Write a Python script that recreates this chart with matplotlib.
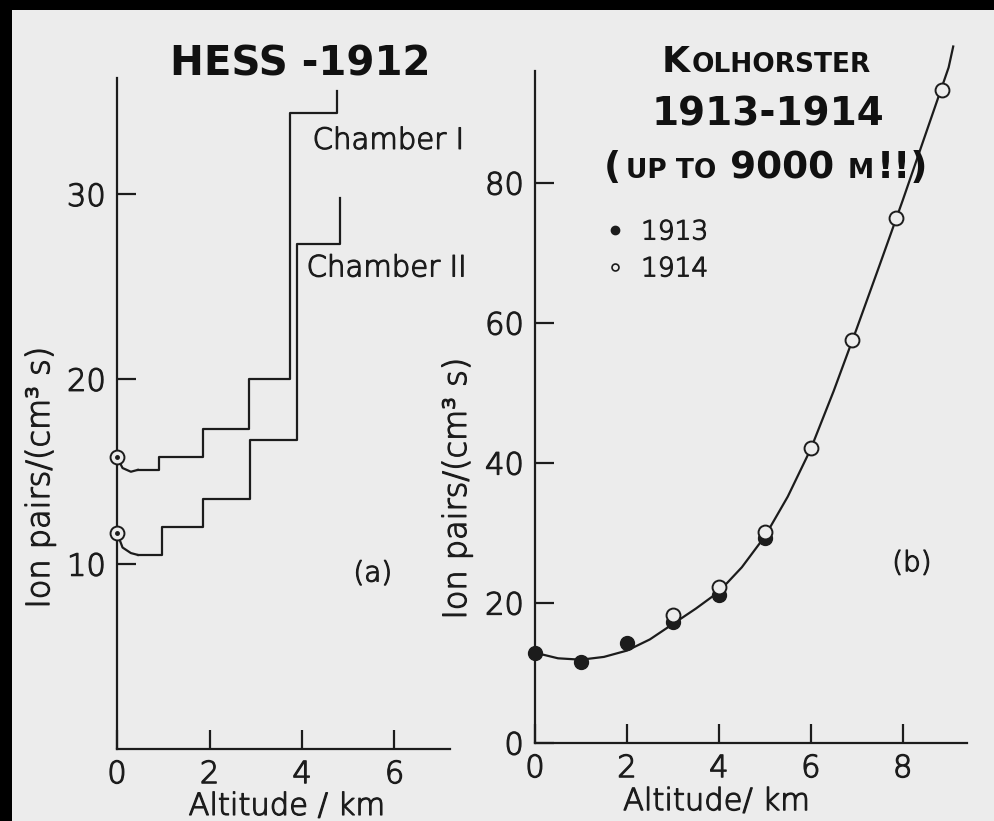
import matplotlib.pyplot as plt
import matplotlib.patheffects as pe
from matplotlib.lines import Line2D
from matplotlib.patches import Rectangle

# ---- data ----
# (a) Hess 1912: two ionisation chambers, step profiles
ch1_lead_alt = [0.0, 0.12, 0.3, 0.45]
ch1_lead_rate = [15.8, 15.2, 15.0, 15.1]
ch1_step_alt = [0.45, 0.9, 1.85, 2.85, 3.75, 4.75]
ch1_step_rate = [15.1, 15.8, 17.3, 20.0, 34.4, 35.6]

ch2_lead_alt = [0.0, 0.12, 0.3, 0.45]
ch2_lead_rate = [11.7, 10.9, 10.6, 10.5]
ch2_step_alt = [0.45, 0.97, 1.86, 2.87, 3.89, 4.82]
ch2_step_rate = [10.5, 12.0, 13.5, 16.7, 27.3, 29.8]

hess_ground_rate = [15.8, 11.7]

# (b) Kolhorster 1913-1914
alt_1913 = [0, 1, 2, 3, 4, 5]
rate_1913 = [12.9, 11.6, 14.3, 17.3, 21.1, 29.3]
alt_1914 = [3, 4, 5, 6, 6.9, 7.85, 8.85]
rate_1914 = [18.3, 22.3, 30.1, 42.1, 57.6, 75.0, 93.3]
curve_alt = [0, 0.5, 1, 1.5, 2, 2.5, 3, 3.5, 4, 4.5, 5, 5.5, 6, 6.5, 7, 7.5, 8, 8.5, 9, 9.1]
curve_rate = [12.9, 12.1, 11.9, 12.3, 13.2, 14.8, 17.0, 19.2, 21.6, 25.1, 29.5,
              35.2, 42.0, 50.3, 59.2, 68.3, 77.5, 87.0, 96.5, 99.5]

ink = "#1c1c1c"
paper = "#ececec"
font = "DejaVu Sans"
weight = "light"
# thin scan-like lettering: light face thickened a touch
thin = [pe.withStroke(linewidth=0.9, foreground=ink)]

W, H = 994, 821
fig = plt.figure(figsize=(W / 100, H / 100), dpi=100)
fig.patch.set_facecolor("black")
fig.patches.append(Rectangle((12 / W, 0), 1, 1 - 10 / H, transform=fig.transFigure,
                             facecolor=paper, edgecolor="none", zorder=-10))


def px_axes(left, right, bottom, top):
    return fig.add_axes([left / W, 1 - bottom / H, (right - left) / W, (bottom - top) / H])


def style(ax):
    ax.set_facecolor("none")
    for s in ["top", "right"]:
        ax.spines[s].set_visible(False)
    for s in ["left", "bottom"]:
        ax.spines[s].set_linewidth(1.6)
        ax.spines[s].set_color(ink)
    ax.tick_params(direction="in", length=14, width=1.6, color=ink,
                   labelsize=22, labelcolor=ink, pad=8)
    for lab in ax.get_xticklabels() + ax.get_yticklabels():
        lab.set_family(font)
        lab.set_fontweight(weight)
        lab.set_path_effects(thin)


def label(ax, x, y, s, size=20, **kw):
    ax.text(x, y, s, fontsize=size, family=font, fontweight=weight, color=ink,
            va="center", path_effects=thin, **kw)


# ---- panel (a) ----
axa = px_axes(117, 450, 749, 78)
axa.set_xlim(0, 7.2)
axa.set_ylim(0, 36.3)
axa.set_xticks([0, 2, 4, 6])
axa.set_yticks([10, 20, 30])
style(axa)

for la, lr, sa, sr in [(ch1_lead_alt, ch1_lead_rate, ch1_step_alt, ch1_step_rate),
                       (ch2_lead_alt, ch2_lead_rate, ch2_step_alt, ch2_step_rate)]:
    axa.plot(la, lr, color=ink, lw=1.6, clip_on=False)
    axa.plot(sa, sr, color=ink, lw=1.6, drawstyle="steps-post", clip_on=False)
axa.plot([0, 0], hess_ground_rate, ls="none", marker="o", ms=10, mfc=paper,
         mec=ink, mew=1.4, clip_on=False, zorder=5)
axa.plot([0, 0], hess_ground_rate, ls="none", marker="o", ms=2.5, color=ink,
         clip_on=False, zorder=6)

label(axa, 4.23, 32.9, "Chamber I", size=21, ha="left")
label(axa, 4.1, 26.0, "Chamber II", size=21, ha="left")
label(axa, 5.53, 9.5, "(a)", ha="center")
axa.set_xlabel("Altitude / km", fontsize=22, family=font, fontweight=weight, color=ink,
               path_effects=thin)
axa.set_ylabel("Ion pairs/(cm³ s)", fontsize=23, family=font, fontweight=weight, color=ink,
               path_effects=thin)
axa.xaxis.set_label_coords(0.51, -0.064)
axa.yaxis.set_label_coords(-0.186, 0.405)

# ---- panel (b) ----
axb = px_axes(535, 967, 743, 43)
axb.set_xlim(0, 9.4)
axb.set_ylim(0, 100)
axb.set_xticks([0, 2, 4, 6, 8])
axb.set_yticks([0, 20, 40, 60, 80])
axb.spines["left"].set_bounds(0, 96)
style(axb)

axb.plot(curve_alt, curve_rate, color=ink, lw=1.6, clip_on=False)
axb.plot(alt_1913, rate_1913, ls="none", marker="o", ms=10, color=ink,
         clip_on=False, zorder=5)
axb.plot(alt_1914, rate_1914, ls="none", marker="o", ms=10, mfc=paper, mec=ink,
         mew=1.4, clip_on=False, zorder=6)

handles = [Line2D([], [], ls="none", marker="o", ms=6, color=ink),
           Line2D([], [], ls="none", marker="o", ms=5, mfc=paper, mec=ink, mew=1.2)]
leg = axb.legend(handles, ["1913", "1914"], loc="upper left", bbox_to_anchor=(0.16, 0.748),
                 frameon=False, borderpad=0, borderaxespad=0, handlelength=0.8,
                 handletextpad=0.6, labelspacing=0.45,
                 prop={"family": font, "weight": weight, "size": 19})
for t in leg.get_texts():
    t.set_color(ink)
    t.set_path_effects(thin)

label(axb, 8.2, 25.7, "(b)", ha="center")
axb.set_xlabel("Altitude/ km", fontsize=22, family=font, fontweight=weight, color=ink,
               path_effects=thin)
axb.set_ylabel("Ion pairs/(cm³ s)", fontsize=23, family=font, fontweight=weight, color=ink,
               path_effects=thin)
axb.xaxis.set_label_coords(0.42, -0.063)
axb.yaxis.set_label_coords(-0.146, 0.364)

# ---- bold titles (small caps built from pieces on a shared baseline) ----
renderer = fig.canvas.get_renderer()


def title_line(pieces, cx, baseline):
    texts = []
    for s, size, gap in pieces:
        t = fig.text(0, 1 - baseline / H, s, fontsize=size, fontweight="bold",
                     family=font, color="#111111", va="baseline", ha="left")
        texts.append((t, gap))
    widths = [t.get_window_extent(renderer).width for t, _ in texts]
    total = sum(widths) + sum(g for _, g in texts)
    x = cx - total / 2
    for (t, gap), w in zip(texts, widths):
        x += gap
        t.set_x(x / W)
        x += w


title_line([("HESS -1912", 29, 0)], 300, 75)
title_line([("K", 26, 0), ("OLHORSTER", 19, 2)], 766, 72)
title_line([("1913-1914", 28, 0)], 768, 126)
title_line([("(", 27, 0), ("UP TO", 19, 5), ("9000", 27, 14), ("M", 19, 14),
            ("!!)", 27, 3)], 766, 178)

fig.savefig("out.png", dpi=100, facecolor=fig.get_facecolor())
